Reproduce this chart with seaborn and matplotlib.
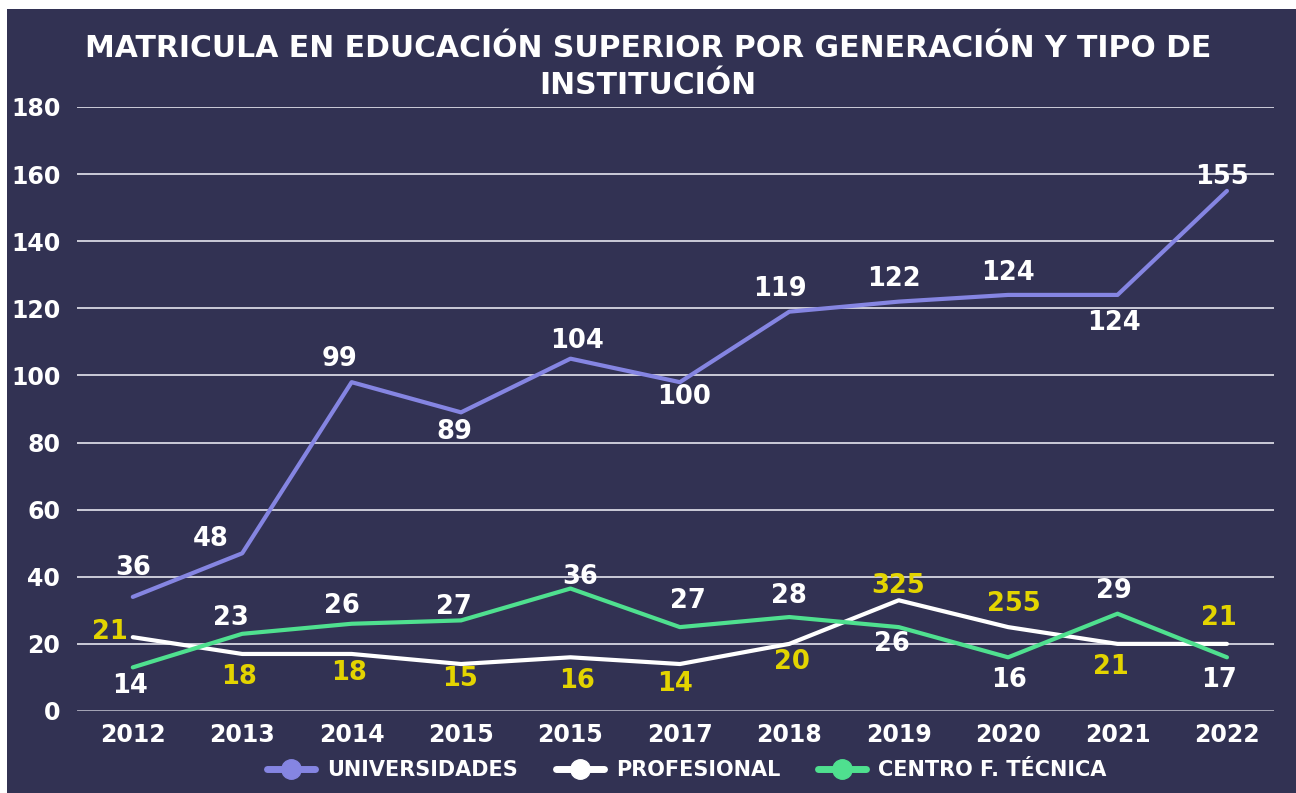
import numpy as np
import pandas as pd
import seaborn as sns
import matplotlib.pyplot as plt
from matplotlib.lines import Line2D
from matplotlib.patches import Rectangle

# data
years = ["2012", "2013", "2014", "2015", "2015", "2017", "2018", "2019", "2020", "2021", "2022"]
universidades = [34, 47, 98, 89, 105, 98, 119, 122, 124, 124, 155]
profesional = [22, 17, 17, 14, 16, 14, 20, 33, 25, 20, 20]
centro_tecnica = [13, 23, 26, 27, 36.5, 25, 28, 25, 16, 29, 16]

# data labels as printed on the chart
labels_univ = ["36", "48", "99", "89", "104", "100", "119", "122", "124", "124", "155"]
labels_prof = ["21", "18", "18", "15", "16", "14", "20", "325", "255", "21", "21"]
labels_cft = ["14", "23", "26", "27", "36", "27", "28", "26", "16", "29", "17"]

series_names = ["UNIVERSIDADES", "PROFESIONAL", "CENTRO F. TÉCNICA"]

# label offsets in pixels (dx, dy)
off_univ = [(0, 29), (-31, 14), (-12, 23), (-7, -20), (7, 18), (4, -15),
            (-9, 23), (-5, 23), (0, 22), (-4, -28), (-5, 14)]
off_prof = [(-23, 5), (-3, -23), (-3, -19), (-1, -15), (7, -24), (-5, -20),
            (3, -18), (-1, 14), (6, 23), (-7, -23), (-8, 26)]
off_cft = [(-3, -19), (-11, 16), (-10, 18), (-7, 13), (10, 12), (8, 26),
           (0, 21), (-7, -17), (1, -23), (-4, 23), (-8, -23)]

bg = "#323253"
colors = {"UNIVERSIDADES": "#8585e2", "PROFESIONAL": "#ffffff", "CENTRO F. TÉCNICA": "#4fe08f"}
yellow = "#e3d400"

pos = np.arange(len(years))
df = pd.DataFrame({
    "pos": np.tile(pos, 3),
    "valor": universidades + profesional + centro_tecnica,
    "serie": np.repeat(series_names, len(years)),
})

sns.set_style("white")
plt.rcParams["font.family"] = ["DejaVu Sans"]

fig = plt.figure(figsize=(12.96, 7.93), dpi=100, facecolor="white")
fig.patches.append(Rectangle((7 / 1296, 0), 1, 1 - 9 / 793, transform=fig.transFigure,
                             facecolor=bg, edgecolor="none", zorder=-10))
ax = fig.add_axes([77 / 1296, 1 - 711 / 793, (1274 - 77) / 1296, (711 - 107) / 793])
ax.set_facecolor(bg)

sns.lineplot(data=df, x="pos", y="valor", hue="serie", palette=colors,
             linewidth=3, legend=False, ax=ax, zorder=3)

ax.set_ylim(0, 180)
ax.set_xlim(-0.51, 10.43)
ax.set_yticks(np.arange(0, 181, 20))
ax.set_xticks(pos)
ax.set_xticklabels(years)
for y in np.arange(20, 181, 20):
    ax.axhline(y, color="#e6e6ee", linewidth=1.2, zorder=1)
ax.axhline(0, color="#b0b0c0", linewidth=2, zorder=1)
for s in ax.spines.values():
    s.set_visible(False)
ax.tick_params(axis="both", length=0, colors="white", labelsize=17)
ax.tick_params(axis="x", pad=9)
ax.tick_params(axis="y", pad=12)
for t in ax.get_xticklabels() + ax.get_yticklabels():
    t.set_fontweight("semibold")
ax.set_xlabel("")
ax.set_ylabel("")

def put_labels(values, texts, offsets, color):
    for x, v, t, (dx, dy) in zip(pos, values, texts, offsets):
        ax.annotate(t, (x, v), xytext=(dx, dy), textcoords="offset pixels",
                    ha="center", va="center", color=color, fontsize=18.5,
                    fontweight="semibold", zorder=5, annotation_clip=False)

put_labels(universidades, labels_univ, off_univ, "white")
put_labels(centro_tecnica, labels_cft, off_cft, "white")
put_labels(profesional, labels_prof, off_prof, yellow)

fig.text(0.5, 1 - 67 / 793,
         "MATRICULA EN EDUCACIÓN SUPERIOR POR GENERACIÓN Y TIPO DE\nINSTITUCIÓN",
         ha="center", va="center", color="white", fontsize=21.5,
         fontweight="semibold", linespacing=1.38)

handles = [Line2D([0], [0], color=colors[n], linewidth=5, marker="o", markersize=14,
                  markerfacecolor=colors[n], markeredgecolor=colors[n]) for n in series_names]
leg = fig.legend(handles, series_names, loc="center", bbox_to_anchor=(687 / 1296, 1 - 770 / 793),
                 ncol=3, frameon=False, fontsize=15, handlelength=2.3, columnspacing=1.8,
                 handletextpad=0.6)
for t in leg.get_texts():
    t.set_color("white")
    t.set_fontweight("semibold")

fig.savefig("out.png", dpi=100, facecolor=fig.get_facecolor())
